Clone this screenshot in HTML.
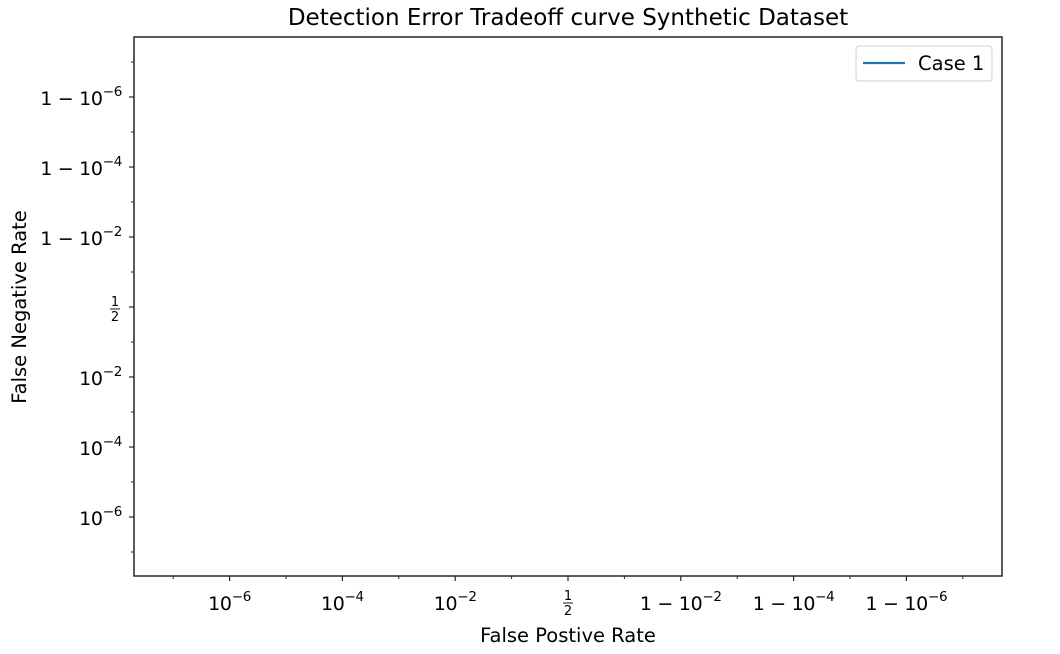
<!DOCTYPE html>
<html><head><meta charset="utf-8"><style>
html,body{margin:0;padding:0;background:#fff;}
svg{display:block;font-family:"DejaVu Sans","Liberation Sans",sans-serif;}
</style></head><body>
<svg id="chart" width="1060" height="654" viewBox="0 0 1060 654" xmlns="http://www.w3.org/2000/svg">
<rect x="0" y="0" width="1060" height="654" fill="#fff"/>
<text x="568" y="25" text-anchor="middle" font-size="23" fill="#000">Detection Error Tradeoff curve Synthetic Dataset</text>
<g id="ticks"></g>
<g id="series"></g>
<rect x="134" y="37" width="868" height="539" fill="none" stroke="#262626" stroke-width="1.5"/>
<text x="568" y="642" text-anchor="middle" font-size="19.5" fill="#000">False Postive Rate</text>
<text transform="translate(26,307) rotate(-90)" text-anchor="middle" font-size="19.5" fill="#000">False Negative Rate</text>
<g>
<rect x="856" y="46" width="136" height="35" rx="3" fill="#fff" stroke="#d0d0d0" stroke-width="1"/>
<line x1="863" y1="63" x2="905" y2="63" stroke="#1f77b4" stroke-width="2.2"/>
<text x="918" y="70" font-size="19.5" fill="#000">Case 1</text>
</g>
</svg>
<script>
const xTickKeys = [-3,-2,-1,0,1,2,3];
const xTickLabels = [["10","−6"],["10","−4"],["10","−2"],["half",""],["1 − 10","−2"],["1 − 10","−4"],["1 − 10","−6"]];
const yTickKeys = [-3,-2,-1,0,1,2,3];
const yTickLabels = [["10","−6"],["10","−4"],["10","−2"],["half",""],["1 − 10","−2"],["1 − 10","−4"],["1 − 10","−6"]];
const minorKeys = [-3.5,-2.5,-1.5,-0.5,0.5,1.5,2.5,3.5];
const seriesFPR = [];
const seriesFNR = [];

const NS="http://www.w3.org/2000/svg";
function xScale(k){return 568+k*112.8;}
function yScale(k){return 307-k*70;}
const g=document.getElementById('ticks');
function mk(tag,attrs){const e=document.createElementNS(NS,tag);for(const a in attrs)e.setAttribute(a,attrs[a]);return e;}
function label(parent,lab,x,y,anchor){
  if(lab[0]==="half"){
    const t=mk('text',{x:x,y:y-9,'text-anchor':'middle','font-size':'13'});
    t.textContent="1";parent.appendChild(t);
    parent.appendChild(mk('line',{x1:x-5,y1:y-6,x2:x+5,y2:y-6,stroke:'#000','stroke-width':'0.9'}));
    const t2=mk('text',{x:x,y:y+6,'text-anchor':'middle','font-size':'13'});
    t2.textContent="2";parent.appendChild(t2);
    return;
  }
  const t=mk('text',{x:x,y:y,'text-anchor':anchor,'font-size':'19','letter-spacing':'-0.3',fill:'#000'});
  const a=mk('tspan',{});a.textContent=lab[0];t.appendChild(a);
  const b=mk('tspan',{dy:'-9','font-size':'13.5'});b.textContent=lab[1];t.appendChild(b);
  parent.appendChild(t);
}
xTickKeys.forEach((k,i)=>{
  const x=xScale(k);
  const l=mk('line',{x1:x,y1:576,x2:x,y2:581,stroke:'#262626','stroke-width':'1.2'});
  
  
  g.appendChild(l);
  const grp=mk('g',{});
  
  
  g.appendChild(grp);
  if(xTickLabels[i][0]==="half") label(grp,xTickLabels[i],x,609,'middle');
  else label(grp,xTickLabels[i],x,610,'middle');
});
yTickKeys.forEach((k,i)=>{
  const y=yScale(k);
  const l=mk('line',{x1:129,y1:y,x2:134,y2:y,stroke:'#262626','stroke-width':'1.2'});
  
  
  g.appendChild(l);
  const grp=mk('g',{});
  
  
  g.appendChild(grp);
  if(yTickLabels[i][0]==="half") label(grp,yTickLabels[i],115,y+8,'middle');
  else label(grp,yTickLabels[i],122,y+8,'end');
});
minorKeys.forEach(k=>{
  const x=xScale(k);
  const l=mk('line',{x1:x,y1:576,x2:x,y2:579,stroke:'#262626','stroke-width':'1'});
  
  
  g.appendChild(l);
  const y=yScale(k);
  const m=mk('line',{x1:131,y1:y,x2:134,y2:y,stroke:'#262626','stroke-width':'1'});
  
  
  g.appendChild(m);
});
if(seriesFPR.length){
  const p=mk('polyline',{fill:'none',stroke:'#1f77b4','stroke-width':'2',
    points:seriesFPR.map((v,i)=>xScale(v)+','+yScale(seriesFNR[i])).join(' ')});
  
  
  document.getElementById('series').appendChild(p);
}
</script>
</body></html>
